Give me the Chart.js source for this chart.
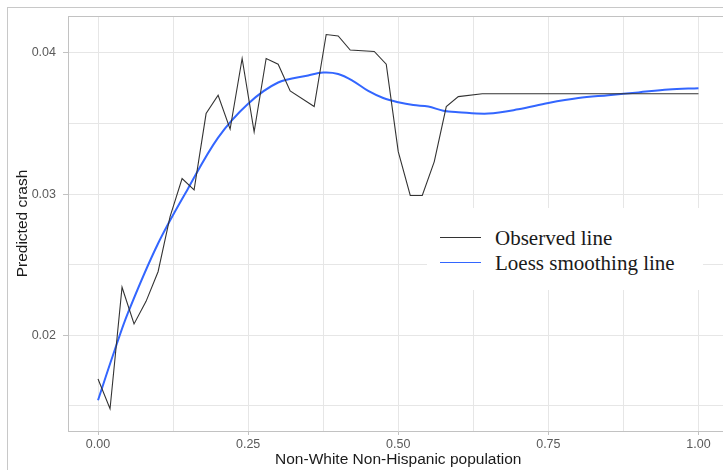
<!DOCTYPE html>
<html>
<head>
<meta charset="utf-8">
<script src="https://cdn.jsdelivr.net/npm/chart.js@4"></script>
<style>
  html, body { margin: 0; padding: 0; background: #fff; overflow: hidden; width: 723px; height: 470px; }
  #wrap { position: relative; width: 723px; height: 470px; overflow: hidden; }
  canvas { position: absolute; left: 0; top: 0; }
  #legend { position: absolute; left: 427px; top: 208px; width: 276px; height: 82px; background: #fff;
            font-family: "Liberation Serif", "Times New Roman", serif; font-size: 21px; color: #1a1a1a; }
  .row { position: absolute; left: 0; height: 24px; line-height: 24px; white-space: nowrap; }
  .sw { position: absolute; left: 13px; top: 11px; width: 41px; height: 0; }
  .lbl { position: absolute; left: 68px; top: 0; }
</style>
</head>
<body>
<div id="wrap">
  <canvas id="c" width="740" height="470"></canvas>
  <div id="legend"></div>
</div>
<script>
// ---- data ----
const observedX = [0, 0.02, 0.04, 0.06, 0.08, 0.10, 0.12, 0.14, 0.16, 0.18, 0.20, 0.22, 0.24, 0.26, 0.28, 0.30, 0.32, 0.36, 0.38, 0.40, 0.42, 0.46, 0.48, 0.50, 0.52, 0.54, 0.56, 0.58, 0.60, 0.64, 1.00];
const observedY = [0.0169, 0.0148, 0.0234, 0.0208, 0.0224, 0.0245, 0.0284, 0.0311, 0.0303, 0.0357, 0.0370, 0.0346, 0.0396, 0.0344, 0.0396, 0.0392, 0.0373, 0.0362, 0.0413, 0.0412, 0.0402, 0.0401, 0.0392, 0.0330, 0.0299, 0.0299, 0.0323, 0.0362, 0.0369, 0.0371, 0.0371];
const loessX = [0, 0.025, 0.05, 0.10, 0.15, 0.20, 0.25, 0.30, 0.35, 0.375, 0.40, 0.425, 0.45, 0.475, 0.50, 0.525, 0.55, 0.575, 0.60, 0.65, 0.70, 0.75, 0.80, 0.85, 0.90, 0.95, 1.00];
const loessY = [0.0154, 0.0186, 0.0216, 0.0265, 0.0304, 0.0340, 0.0364, 0.0379, 0.0384, 0.0386, 0.0385, 0.0380, 0.0373, 0.0368, 0.0365, 0.0363, 0.0362, 0.0359, 0.0358, 0.0357, 0.0360, 0.03645, 0.0368, 0.0370, 0.0372, 0.0374, 0.0375];
const seriesLabels = ["Observed line", "Loess smoothing line"];
const xMajorTicks = [0, 0.25, 0.5, 0.75, 1.0];
const xMinorTicks = [0.125, 0.375, 0.625, 0.875];
const yMajorTicks = [0.02, 0.03, 0.04];
const yMinorTicks = [0.015, 0.025, 0.035];
const xTitle = "Non-White Non-Hispanic population";
const yTitle = "Predicted crash";

const toPts = (xs, ys) => xs.map((x, i) => ({ x: x, y: ys[i] }));
const isMajor = (v, list) => list.some(m => Math.abs(m - v) < 1e-9);

const gridColor = '#e6e6e6';
const frameColor = '#c2c2c2';
const tickLabelColor = '#5a5a5a';

const framePlugin = {
  id: 'frame',
  beforeDraw(chart) {
    const ctx = chart.ctx;
    ctx.save();
    ctx.strokeStyle = '#c8c8c8';
    ctx.lineWidth = 1;
    ctx.strokeRect(7.5, 7.5, 900, 900);
    ctx.restore();
  },
  afterDraw(chart) {
    const a = chart.chartArea, ctx = chart.ctx;
    ctx.save();
    ctx.strokeStyle = frameColor;
    ctx.lineWidth = 1;
    ctx.beginPath();
    ctx.moveTo(a.left, a.top + 0.5);
    ctx.lineTo(a.right, a.top + 0.5);
    ctx.moveTo(a.right - 0.5, a.top);
    ctx.lineTo(a.right - 0.5, a.bottom);
    ctx.stroke();
    ctx.restore();
  }
};

const chart = new Chart(document.getElementById('c'), {
  type: 'line',
  data: {
    datasets: [
      { label: seriesLabels[0], data: toPts(observedX, observedY), borderColor: '#333333', borderWidth: 1.1,
        pointRadius: 0, tension: 0, fill: false },
      { label: seriesLabels[1], data: toPts(loessX, loessY), borderColor: '#3366ff', borderWidth: 2,
        pointRadius: 0, tension: 0.35, fill: false }
    ]
  },
  options: {
    responsive: false,
    animation: false,
    layout: { padding: { top: 16, right: 11.5, left: 0, bottom: 0 } },
    plugins: { legend: { display: false }, tooltip: { enabled: false } },
    scales: {
      x: {
        type: 'linear', min: -0.05, max: 1.05,
        afterBuildTicks(scale) {
          scale.ticks = xMajorTicks.concat(xMinorTicks).sort((a, b) => a - b).map(v => ({ value: v }));
        },
        afterFit(scale) { scale.height = 39; },
        ticks: {
          autoSkip: false, maxRotation: 0, padding: 2, color: tickLabelColor,
          font: { family: 'Liberation Sans, Arial, sans-serif', size: 12.5 },
          callback: (v) => isMajor(v, xMajorTicks) ? v.toFixed(2) : ''
        },
        grid: {
          color: gridColor, lineWidth: 1, tickLength: 4,
          tickColor: (c) => (c.tick && isMajor(c.tick.value, xMajorTicks)) ? frameColor : 'rgba(0,0,0,0)'
        },
        border: { display: true, color: frameColor, width: 1 },
        title: {
          display: true, text: xTitle, color: '#1a1a1a',
          font: { family: 'Liberation Sans, Arial, sans-serif', size: 15.5 },
          padding: { top: 0, bottom: 0.7 }
        }
      },
      y: {
        type: 'linear', min: 0.01322, max: 0.04261,
        afterBuildTicks(scale) {
          scale.ticks = yMajorTicks.concat(yMinorTicks).sort((a, b) => a - b).map(v => ({ value: v }));
        },
        afterFit(scale) { scale.width = 68; },
        ticks: {
          autoSkip: false, padding: 7, color: tickLabelColor,
          font: { family: 'Liberation Sans, Arial, sans-serif', size: 12.5 },
          callback: (v) => isMajor(v, yMajorTicks) ? v.toFixed(2) : ''
        },
        grid: {
          color: gridColor, lineWidth: 1, tickLength: 5,
          tickColor: (c) => (c.tick && isMajor(c.tick.value, yMajorTicks)) ? frameColor : 'rgba(0,0,0,0)'
        },
        border: { display: true, color: frameColor, width: 1 },
        title: {
          display: true, text: yTitle, color: '#1a1a1a',
          font: { family: 'Liberation Sans, Arial, sans-serif', size: 15.5 },
          padding: { top: 13.7, bottom: 0 }
        }
      }
    }
  },
  plugins: [framePlugin]
});

// legend built from the chart's datasets
const legend = document.getElementById('legend');
chart.data.datasets.forEach((ds, i) => {
  const row = document.createElement('div');
  row.className = 'row';
  row.style.top = (18 + i * 25) + 'px';
  row.style.width = '276px';
  const sw = document.createElement('div');
  sw.className = 'sw';
  sw.style.borderTop = '1.2px solid ' + ds.borderColor;
  const lbl = document.createElement('span');
  lbl.className = 'lbl';
  lbl.textContent = ds.label;
  row.appendChild(sw);
  row.appendChild(lbl);
  legend.appendChild(row);
});
</script>
</body>
</html>
